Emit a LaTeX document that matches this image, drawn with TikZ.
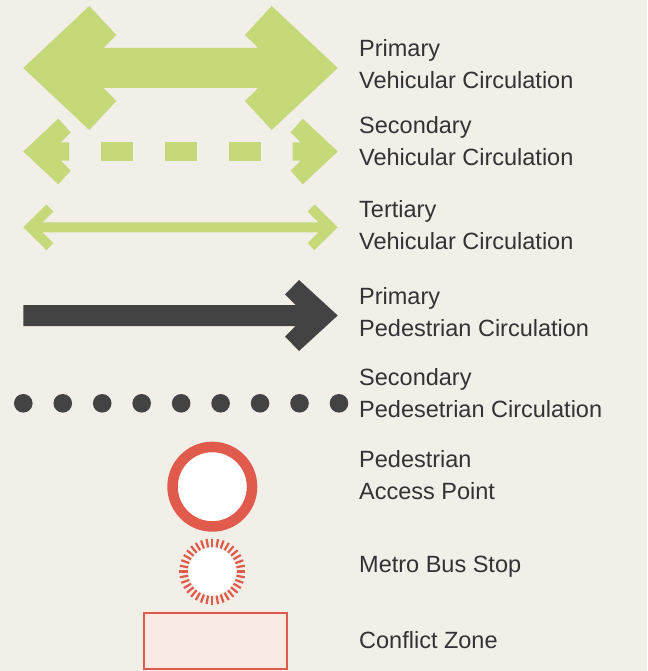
\documentclass[tikz,border=0pt]{standalone}
\usepackage{fontspec}
\setmainfont{Liberation Sans}
\usetikzlibrary{calc}
\definecolor{bg}{HTML}{F2EEE8}
\definecolor{veh}{HTML}{C5D978}
\definecolor{ped}{HTML}{434343}
\definecolor{accent}{HTML}{E05B4B}
\definecolor{zone}{HTML}{F9EAE3}
\definecolor{txt}{HTML}{333333}
\begin{document}
\begin{tikzpicture}[x=1pt,y=-1pt,
  lbl/.style={anchor=base west, inner sep=0pt, text=txt, font=\fontsize{23.5}{28}\selectfont},
  vehfill/.style={fill=veh},
  pedfill/.style={fill=ped}]
\fill[bg] (0,0) rectangle (647,671);
\useasboundingbox (0,0) rectangle (647,671);

% Primary vehicular
\fill[vehfill] (23.3,68) -- (89.3,6) -- (116.3,35) -- (103.5,48) -- (258,48) -- (245,35) -- (271.7,6)
  -- (337.7,68) -- (271.7,130) -- (245,101) -- (258,88) -- (103.5,88) -- (116.3,101) -- (89.3,130) -- cycle;

% Secondary vehicular
\fill[vehfill] (23.3,151.5) -- (58.3,118.7) -- (70.7,132.3) -- (60.8,142.3) -- (69,142.3) -- (69,160.7)
  -- (60.8,160.7) -- (70.7,170.7) -- (58.3,184.3) -- cycle;
\fill[vehfill] (337.7,151.5) -- (302.7,118.7) -- (290.7,132.3) -- (300.5,142.3) -- (292.7,142.3) -- (292.7,160.7)
  -- (300.5,160.7) -- (290.7,170.7) -- (302.7,184.3) -- cycle;
\foreach \x in {100.7,164.7,228.7}
  \fill[vehfill] (\x,142.3) rectangle ++(32,18.4);

% Tertiary vehicular
\fill[vehfill] (23.3,227.3) -- (46.5,204.5) -- (53.3,211.5) -- (42.5,222.3) -- (318.5,222.3) -- (307.7,211.5)
  -- (314.5,204.5) -- (337.7,227.3) -- (314.5,250.1) -- (307.7,243.1) -- (318.5,232.3) -- (42.5,232.3)
  -- (53.3,243.1) -- (46.5,250.1) -- cycle;

% Primary pedestrian
\fill[pedfill] (23.3,305) -- (295.5,305) -- (285,294.5) -- (299,280) -- (337.7,315.5) -- (299,351)
  -- (285,336.5) -- (295.5,326) -- (23.3,326) -- cycle;

% Secondary pedestrian (dots)
\foreach \i in {0,...,8}
  \fill[pedfill] ({23.3+39.46*\i},403.3) circle (9.3);

% Pedestrian access point
\draw[accent, line width=10.5pt, fill=white] (212.3,486.7) circle (39.75);

% Metro bus stop
\coordinate (bus) at (212.3,571.5);
\fill[white] (bus) circle (23.5);
\foreach \a in {0,10,...,350}
  \draw[accent, line width=2.2pt] ($(bus)+(\a:24.5)$) -- ($(bus)+(\a:33)$);

% Conflict zone
\draw[accent, line width=2pt, fill=zone] (144.3,612.5) rectangle (286.5,668.5);

% Labels
\node[lbl] (l1a) at (359,56.7) {Primary};
\node[lbl] (l1b) at (359,89) {Vehicular Circulation};
\node[lbl] (l2a) at (359,133.5) {Secondary};
\node[lbl] (l2b) at (359,165.5) {Vehicular Circulation};
\node[lbl] (l3a) at (359,217.5) {Tertiary};
\node[lbl] (l3b) at (359,249.5) {Vehicular Circulation};
\node[lbl] (l4a) at (359,304.5) {Primary};
\node[lbl] (l4b) at (359,336.5) {Pedestrian Circulation};
\node[lbl] (l5a) at (359,385.5) {Secondary};
\node[lbl] (l5b) at (359,417.5) {Pedesetrian Circulation};
\node[lbl] (l6a) at (359,467.5) {Pedestrian};
\node[lbl] (l6b) at (359,499.5) {Access Point};
\node[lbl] (l7) at (359,572.5) {Metro Bus Stop};
\node[lbl] (l8) at (359,648.5) {Conflict Zone};
\end{tikzpicture}
\end{document}
